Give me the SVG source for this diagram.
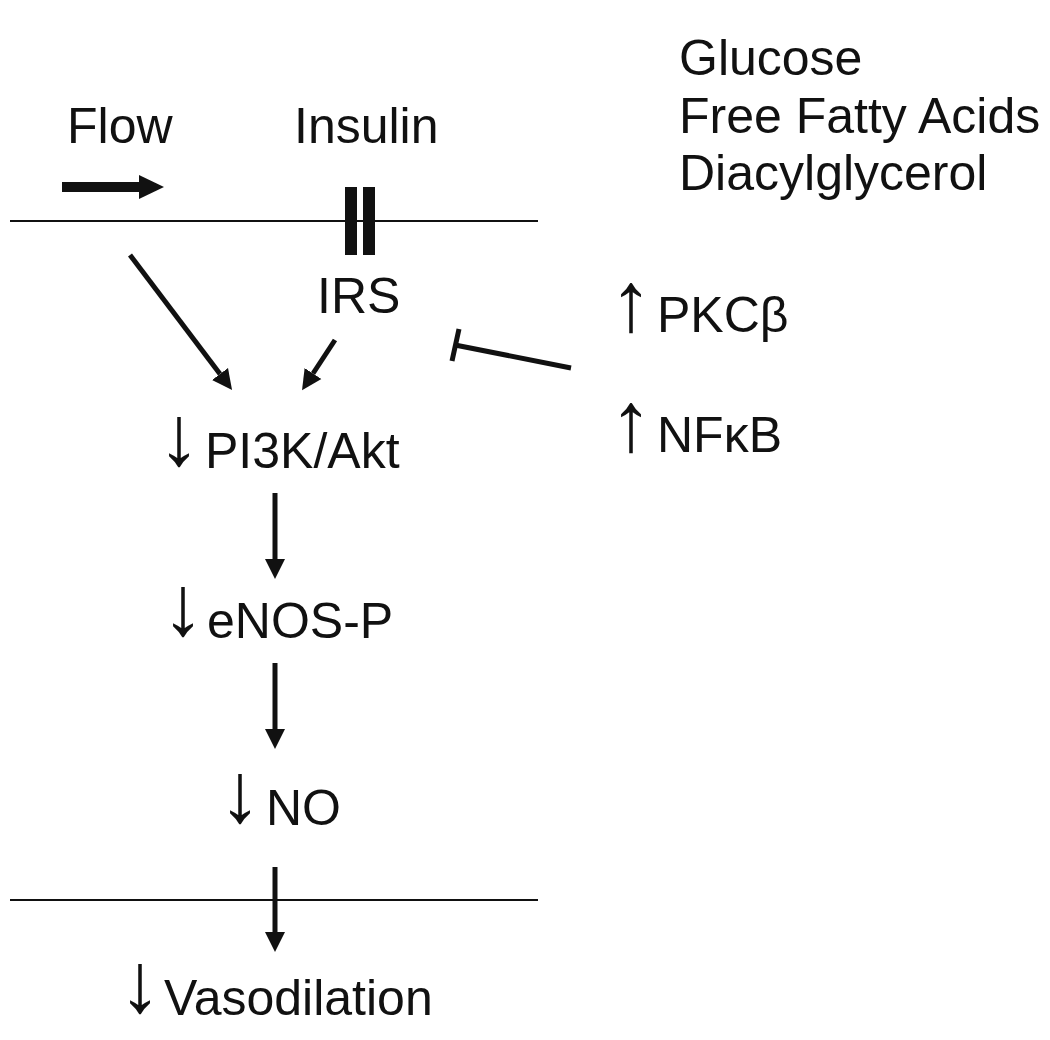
<svg xmlns="http://www.w3.org/2000/svg" width="1050" height="1040" viewBox="0 0 1050 1040">
<style>
  text { font-family: "Liberation Sans", Arial, sans-serif; font-size: 50px; fill: #111; }
  .arr { font-family: "Liberation Sans", sans-serif; font-size: 85px; text-anchor: middle; }
  .mem { stroke: #111; stroke-width: 2; }
  .con { stroke: #111; stroke-width: 5; fill: none; }
</style>
<defs>
  <marker id="head" markerUnits="userSpaceOnUse" markerWidth="20" markerHeight="22" refX="0" refY="10" orient="auto" viewBox="0 0 20 20">
    <path d="M0,0 L20,10 L0,20 Z" fill="#111"/>
  </marker>
</defs>
<rect width="1050" height="1040" fill="#fff"/>

<g id="membranes">
  <line class="mem" x1="10" y1="221" x2="538" y2="221"/>
  <line class="mem" x1="10" y1="900" x2="538" y2="900"/>
</g>

<g id="flow">
  <text x="67" y="143">Flow</text>
  <line x1="62" y1="187" x2="140" y2="187" stroke="#111" stroke-width="10"/>
  <polygon points="139,175 164,187 139,199" fill="#111"/>
</g>

<g id="insulin">
  <text x="294" y="143">Insulin</text>
  <rect x="345" y="187" width="12" height="68" fill="#111"/>
  <rect x="363" y="187" width="12" height="68" fill="#111"/>
</g>

<g id="stimuli">
  <text x="679" y="75">Glucose</text>
  <text x="679" y="133">Free Fatty Acids</text>
  <text x="679" y="190">Diacylglycerol</text>
</g>

<g id="irs"><text x="317" y="313">IRS</text></g>

<g id="pkc">
  <text class="arr" x="631" y="331">↑</text>
  <text x="657" y="332">PKCβ</text>
</g>
<g id="nfkb">
  <text class="arr" x="631" y="451">↑</text>
  <text x="657" y="452">NFκB</text>
</g>

<g id="pi3k">
  <text class="arr" x="179" y="465">↓</text>
  <text x="205" y="468">PI3K/Akt</text>
</g>
<g id="enos">
  <text class="arr" x="183" y="635">↓</text>
  <text x="207" y="638">eNOS-P</text>
</g>
<g id="no">
  <text class="arr" x="240" y="822">↓</text>
  <text x="266" y="825">NO</text>
</g>
<g id="vaso">
  <text class="arr" x="140" y="1012">↓</text>
  <text x="164" y="1015">Vasodilation</text>
</g>

<g id="connectors">
  <line class="con" x1="130" y1="255" x2="220" y2="374" marker-end="url(#head)"/>
  <line class="con" x1="335" y1="340" x2="313" y2="373.5" marker-end="url(#head)"/>
  <line class="con" x1="275" y1="493" x2="275" y2="559" marker-end="url(#head)"/>
  <line class="con" x1="275" y1="663" x2="275" y2="729" marker-end="url(#head)"/>
  <line class="con" x1="275" y1="867" x2="275" y2="932" marker-end="url(#head)"/>
  <line class="con" x1="571" y1="368" x2="455" y2="345"/>
  <line class="con" x1="459" y1="329" x2="452" y2="361"/>
</g>
</svg>
